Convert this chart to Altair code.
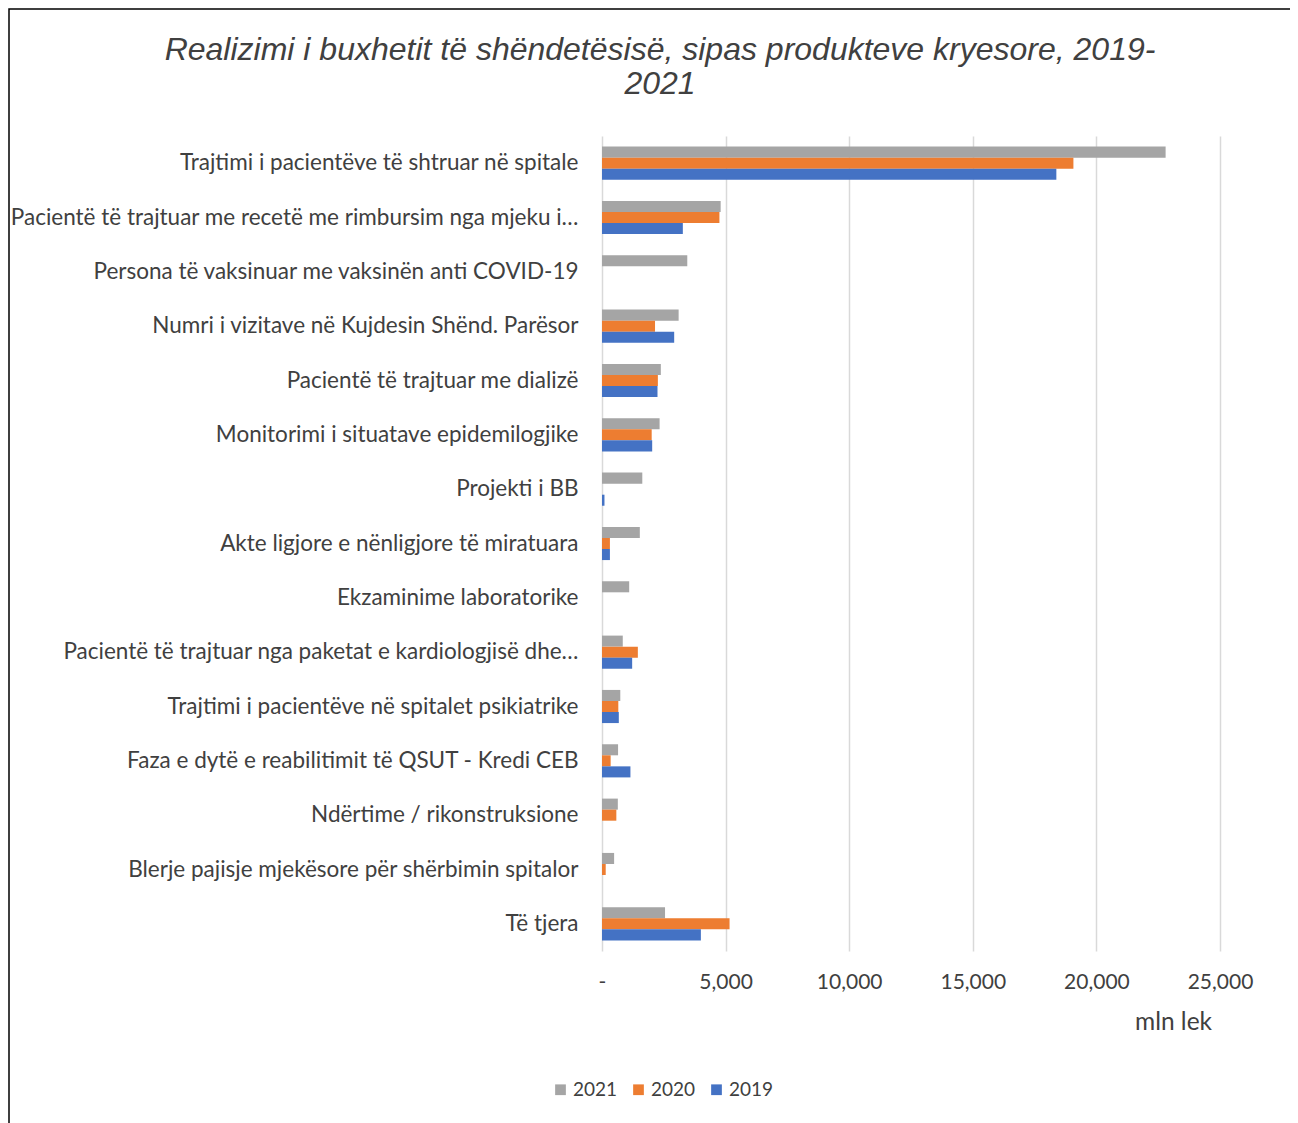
import altair as alt
import pandas as pd

categories = [
    "Trajtimi i pacientëve të shtruar në spitale",
    "Pacientë të trajtuar me recetë me rimbursim nga mjeku i…",
    "Persona të vaksinuar me vaksinën anti COVID-19 ",
    "Numri i vizitave në Kujdesin Shënd. Parësor",
    "Pacientë të trajtuar me dializë",
    "Monitorimi i situatave epidemilogjike ",
    "Projekti i BB ",
    "Akte ligjore e nënligjore të miratuara",
    "Ekzaminime laboratorike",
    "Pacientë të trajtuar nga paketat e kardiologjisë dhe…",
    "Trajtimi i pacientëve në spitalet psikiatrike",
    "Faza e dytë e reabilitimit të QSUT - Kredi CEB",
    "Ndërtime / rikonstruksione",
    "Blerje pajisje mjekësore për shërbimin spitalor",
    "Të tjera",
]
years = ["2021", "2020", "2019"]
v2021 = [22800, 4800, 3450, 3100, 2380, 2330, 1630, 1530, 1100, 840, 740, 650, 640, 490, 2550]
v2020 = [19070, 4750, None, 2145, 2260, 2010, None, 320, None, 1450, 660, 350, 580, 150, 5160]
v2019 = [18380, 3270, None, 2920, 2245, 2030, 100, 320, None, 1220, 680, 1150, None, None, 4000]
tick_values = [0, 5000, 10000, 15000, 20000, 25000]
colors = ["#A5A5A5", "#ED7D31", "#4472C4"]

rows = []
for i, c in enumerate(categories):
    for y, vals in zip(years, [v2021, v2020, v2019]):
        if vals[i] is not None:
            rows.append({"cat": c, "year": y, "value": vals[i]})
df = pd.DataFrame(rows)

W, H = 618, 815

bars = alt.Chart(df).mark_bar().encode(
    x=alt.X(
        "value:Q",
        scale=alt.Scale(domain=[0, 25000], nice=False),
        axis=alt.Axis(
            values=tick_values,
            labelExpr="datum.value == 0 ? '-' : format(datum.value, ',')",
            grid=True, gridColor="#D9D9D9", gridWidth=1.5,
            domain=False, ticks=False, tickSize=0, labelFlush=False,
            labelFont="Lato", labelFontSize=21, labelColor="#404040",
            labelPadding=20,
            title="mln lek", titleFont="Lato", titleFontSize=24.5,
            titleFontWeight="normal", titleColor="#404040",
            titleX=571, titleY=71, titleAlign="center", titleBaseline="middle",
        ),
    ),
    y=alt.Y(
        "cat:N", sort=categories,
        scale=alt.Scale(domain=categories, paddingInner=0.39, paddingOuter=0.195),
        axis=alt.Axis(
            title=None, domain=False, ticks=False, tickSize=0, grid=False,
            labelFont="Lato", labelFontSize=22.5, labelColor="#404040",
            labelPadding=24, labelLimit=700,
        ),
    ),
    yOffset=alt.YOffset("year:N", sort=years, scale=alt.Scale(domain=years)),
    color=alt.Color(
        "year:N",
        scale=alt.Scale(domain=years, range=colors),
        legend=alt.Legend(
            orient="none", legendX=-51, legendY=944, direction="horizontal",
            title=None, symbolType="square", symbolSize=115,
            labelFont="Lato", labelFontSize=19, labelColor="#404040",
            labelOffset=3, columnPadding=11, symbolStrokeWidth=0,
        ),
    ),
)

border = alt.Chart(alt.Data(values=[{"a": 1}])).mark_rect(
    fillOpacity=0, stroke="#000000", strokeWidth=1.5
).encode(
    x=alt.value(-593), x2=alt.value(W + 130),
    y=alt.value(-127), y2=alt.value(H + 300),
)

chart = alt.layer(border, bars).properties(
    width=W, height=H,
    autosize=alt.AutoSizeParams(type="none"),
    padding={"left": 594, "top": 128, "right": 70, "bottom": 172},
    title=alt.Title(
        ["Realizimi i buxhetit të shëndetësisë, sipas produkteve kryesore, 2019-", "2021"],
        anchor="middle", dx=-251, offset=-125, baseline="bottom",
        font="Liberation Sans", fontSize=32, fontStyle="italic",
        fontWeight="normal", color="#404040", lineHeight=34,
    ),
).configure_view(stroke=None)

chart.save("out.html", embed_options={"renderer": "svg", "actions": False})
